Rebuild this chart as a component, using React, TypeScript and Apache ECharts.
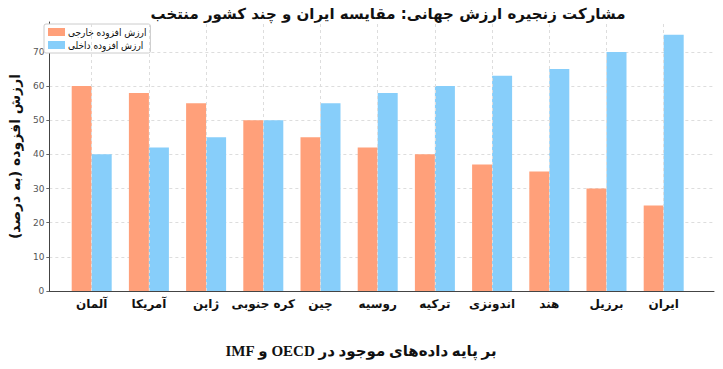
import React, { useEffect, useRef } from "react";
import * as echarts from "echarts";

const categories = ["آلمان", "آمریکا", "ژاپن", "کره جنوبی", "چین", "روسیه", "ترکیه", "اندونزی", "هند", "برزیل", "ایران"];
const foreignVA = [60, 58, 55, 50, 45, 42, 40, 37, 35, 30, 25];
const domesticVA = [40, 42, 45, 50, 55, 58, 60, 63, 65, 70, 75];
const yTicks = [0, 10, 20, 30, 40, 50, 60, 70];
const seriesNames = ["ارزش افزوده خارجی", "ارزش افزوده داخلی"];
const titleText = "مشارکت زنجیره ارزش جهانی: مقایسه ایران و چند کشور منتخب";
const xTitleText = "بر پایه داده‌های موجود در OECD و IMF";
const yTitleText = "ارزش افزوده (به درصد)";

const FONT = "DejaVu Sans";
const rtl = (s: string) => "\u202B" + s + "\u202C";

export default function App() {
  const ref = useRef<HTMLDivElement>(null);
  useEffect(() => {
    if (!ref.current) return;
    const chart = echarts.init(ref.current, null, { renderer: "svg" });
    const Y_MAX = 78.75;
    chart.setOption({
      animation: false,
      backgroundColor: "#ffffff",
      title: [
        {
          text: rtl(titleText),
          left: 383,
          textAlign: "center",
          top: 1,
          textStyle: { fontFamily: FONT, fontSize: 15, fontWeight: "bold", color: "#111" },
        },
        {
          text: rtl(xTitleText),
          left: 356,
          textAlign: "center",
          top: 338,
          textStyle: { fontFamily: "Liberation Serif, DejaVu Sans", fontSize: 15, fontWeight: "bold", color: "#111" },
        },
      ],
      legend: {
        left: 44,
        top: 24,
        orient: "vertical",
        padding: [3, 4, 3, 4],
        itemGap: 3,
        itemWidth: 17,
        itemHeight: 8,
        borderColor: "#cccccc",
        borderWidth: 1,
        borderRadius: 2,
        backgroundColor: "#ffffff",
        icon: "rect",
        formatter: (n: string) => rtl(n),
        textStyle: { fontFamily: "DejaVu Sans Condensed, DejaVu Sans", fontSize: 10, color: "#111", padding: [0, 0, 0, -2] },
        data: seriesNames,
      },
      grid: [
        { left: 41, right: 9, top: 22, bottom: 78 },
        { left: 63.1, right: 30.7, top: 22, bottom: 78 },
      ],
      xAxis: [
        {
          gridIndex: 0,
          type: "value",
          min: 0,
          max: 1,
          axisLine: { show: true, onZero: false, lineStyle: { color: "#444", width: 1 } },
          axisTick: { show: false },
          axisLabel: { show: false },
          splitLine: { show: false },
        },
        {
          gridIndex: 1,
          type: "category",
          data: categories,
          boundaryGap: true,
          axisLine: { show: false },
          axisTick: { show: false },
          axisLabel: {
            interval: 0,
            formatter: (v: string) => rtl(v),
            fontFamily: FONT,
            fontSize: 12,
            fontWeight: "bold",
            color: "#111",
            margin: 7,
          },
          splitLine: { show: false },
        },
      ],
      yAxis: [
        {
          gridIndex: 0,
          type: "value",
          min: 0,
          max: Y_MAX,
          name: rtl(yTitleText),
          nameLocation: "middle",
          nameGap: 26,
          nameTextStyle: { fontFamily: FONT, fontSize: 14, fontWeight: "bold", color: "#111" },
          axisLine: { show: true, onZero: false, lineStyle: { color: "#444", width: 1 } },
          axisTick: { show: true, length: 3, customValues: yTicks, lineStyle: { color: "#666" } },
          axisLabel: { customValues: yTicks, fontFamily: FONT, fontSize: 9, color: "#555", margin: 5 },
          splitLine: { show: true, lineStyle: { type: [3, 3], color: "#dddddd", width: 1 } },
        },
        {
          gridIndex: 1,
          type: "value",
          min: 0,
          max: Y_MAX,
          show: false,
          splitLine: { show: false },
        },
      ],
      series: [
        {
          name: "grid-lines",
          type: "line",
          xAxisIndex: 1,
          yAxisIndex: 1,
          data: [],
          z: 1,
          markLine: {
            silent: true,
            symbol: ["none", "none"],
            label: { show: false },
            lineStyle: { type: [3, 3], color: "#dddddd", width: 1 },
            data: categories.map((c) => ({ xAxis: c })),
          },
        },
        {
          name: seriesNames[0],
          type: "bar",
          xAxisIndex: 1,
          yAxisIndex: 1,
          data: foreignVA,
          barWidth: 20,
          barGap: "0%",
          z: 3,
          itemStyle: { color: "#FFA07A" },
        },
        {
          name: seriesNames[1],
          type: "bar",
          xAxisIndex: 1,
          yAxisIndex: 1,
          data: domesticVA,
          barWidth: 20,
          barGap: "0%",
          z: 3,
          itemStyle: { color: "#87CEFA" },
        },
      ],
    });
    return () => chart.dispose();
  }, []);
  return <div ref={ref} style={{ width: 723, height: 369, position: "absolute", left: 0, top: 0 }} />;
}
